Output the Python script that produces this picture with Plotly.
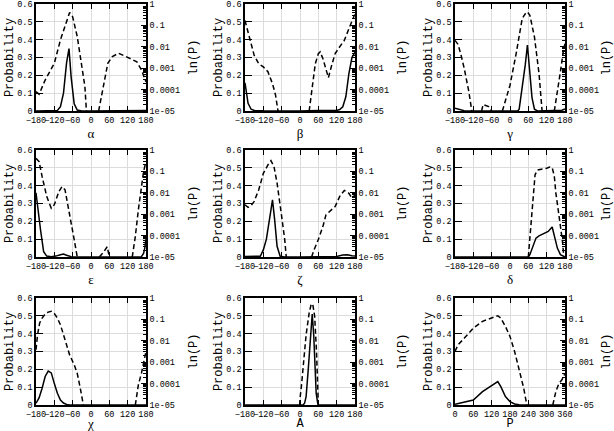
import plotly.graph_objects as go

# ---- data (x in degrees) ----
# solid: probability (left axis), dashed: P on log axis (right axis)
alpha_xs = [-180, -120, -110, -100, -90, -80, -72, -65, -55, -45, -30, 0, 30, 60, 90, 120, 150, 180]
alpha_ps = [0, 0, 0.003, 0.024, 0.1, 0.27, 0.35, 0.19, 0.04, 0.005, 0, 0, 0, 0.003, 0.004, 0.003, 0.003, 0.003]
alpha_xd = [-180, -170, -150, -120, -100, -80, -70, -60, -45, -30, -20, -15, None,
            25, 40, 55, 70, 90, 120, 150, 165, 180]
alpha_pd = [8e-5, 6e-5, 2.8e-4, 1.7e-3, 2.1e-2, 0.18, 0.4, 0.25, 0.03, 1.2e-3, 1.4e-4, 1e-5, None,
            1e-5, 1.4e-4, 1.7e-3, 3.5e-3, 5e-3, 3.2e-3, 2e-3, 8.3e-4, 2.3e-4]

beta_xs = [-180, -175, -170, -160, -150, -120, -60, 0, 60, 100, 120, 130, 140, 150, 160, 170, 180]
beta_ps = [0.158, 0.1, 0.043, 0.01, 0.003, 0.001, 0, 0, 0.003, 0.002, 0.003, 0.008, 0.024, 0.08, 0.21, 0.30, 0.33]
beta_xd = [-180, -165, -150, -135, -120, -105, -90, -80, -72, None,
           30, 40, 50, 60, 66, 75, 85, 93, 105, 115, 130, 145, 160, 170, 180]
beta_pd = [0.17, 0.028, 4e-3, 1.6e-3, 1.15e-3, 6.8e-4, 1.9e-4, 5.5e-5, 1e-5, None,
           1e-5, 1.35e-4, 1.6e-3, 4.8e-3, 5.8e-3, 2.8e-3, 8e-4, 3.6e-4, 1.6e-3, 4.8e-3, 0.01, 0.02, 0.07, 0.17, 0.35]

gamma_xs = [-180, -170, -160, -150, -120, 0, 25, 30, 40, 50, 57, 65, 72, 80, 90, 170, 180]
gamma_ps = [0.015, 0.012, 0.005, 0.002, 0, 0, 0, 0.01, 0.13, 0.26, 0.37, 0.2, 0.075, 0.01, 0, 0.004, 0.012]
gamma_xd = [-180, -170, -160, -150, -135, -125, None, -93, -88, -70, -60, None,
            -25, -10, 0, 20, 40, 50, 57, 65, 80, 95, 105, None, 145, 155, 165, 175, 180]
gamma_pd = [0.02, 0.013, 4e-3, 1e-3, 8.5e-5, 1e-5, None, 1e-5, 2e-5, 1.6e-5, 1e-5, None,
            1e-5, 5e-5, 1.6e-4, 4.7e-3, 0.21, 0.35, 0.43, 0.3, 0.029, 5.6e-4, 1e-5, None,
            1e-5, 6.6e-5, 6.8e-4, 7e-3, 0.014]

eps_xs = [-180, -175, -165, -155, -145, -130, -115, -100, -90, -80, -65, -50, 0, 150, 165, 172, 176, 180]
eps_ps = [0.36, 0.28, 0.15, 0.03, 0.005, 0.002, 0.005, 0.013, 0.017, 0.01, 0.002, 0, 0, 0, 0.002, 0.02, 0.05, 0.1]
eps_xd = [-180, -170, -160, -145, -130, -120, -105, -95, -85, -70, -55, -45, None,
          27, 40, 53, 60, None, 135, 145, 155, 165, 172, 180]
eps_pd = [0.41, 0.29, 0.058, 6.8e-3, 1.9e-3, 2.8e-3, 0.0115, 0.0195, 0.0138, 1.1e-3, 6.5e-5, 1e-5, None,
          1e-5, 1.6e-5, 3e-5, 1e-5, None, 1e-5, 9e-5, 1.6e-3, 0.0195, 0.098, 0.29]

zeta_xs = [-180, -150, -130, -120, -110, -100, -93, -90, -83, -75, -65, -50, 0, 100, 120, 140, 155, 170, 180]
zeta_ps = [0.003, 0.002, 0.004, 0.04, 0.1, 0.21, 0.30, 0.32, 0.21, 0.06, 0.004, 0, 0, 0.002, 0.003, 0.011, 0.013, 0.007, 0.005]
zeta_xd = [-180, -170, -160, -150, -135, -120, -105, -95, -85, -75, -60, -50, -45, None,
           38, 45, 60, 75, 85, 100, 115, 130, 145, 160, 170, 180]
zeta_pd = [2.75e-3, 2.1e-3, 2.5e-3, 4e-3, 0.0138, 0.081, 0.2, 0.32, 0.166, 0.028, 7.9e-4, 6.5e-5, 1e-5, None,
           1e-5, 2e-5, 6.5e-5, 2.7e-4, 9.3e-4, 1.5e-3, 2.3e-3, 6.8e-3, 0.0129, 9.5e-3, 5.6e-3, 7.9e-3]

delta_xs = [-180, 60, 65, 75, 85, 95, 110, 125, 138, 145, 155, 165, 175, 180]
delta_ps = [0, 0, 0.013, 0.06, 0.106, 0.119, 0.13, 0.143, 0.168, 0.115, 0.05, 0.013, 0.002, 0]
delta_xd = [60, 68, 75, 82, 90, 105, 120, 130, 138, 145, 150, 158, 165, 172, 176]
delta_pd = [1e-5, 2.7e-4, 9.5e-3, 0.07, 0.117, 0.126, 0.14, 0.16, 0.15, 0.06, 0.01, 1.5e-3, 3e-4, 5e-5, 1e-5]

chi_xs = [-180, -170, -160, -150, -140, -130, -120, -110, -100, -90, -80, -70, 180]
chi_ps = [0.01, 0.04, 0.094, 0.16, 0.19, 0.18, 0.12, 0.066, 0.028, 0.011, 0.003, 0, 0]
chi_xd = [-180, -175, -168, -160, -150, -140, -130, -120, -110, -100, -85, -70, -55, -45, -35, -25, None,
          145, 155, 165, 175, 180]
chi_pd = [3.8e-3, 0.019, 0.068, 0.115, 0.178, 0.22, 0.24, 0.186, 0.115, 0.056, 0.0112, 2.2e-3, 7.6e-4, 3e-4, 6e-5, 1e-5, None,
          1e-5, 8.7e-5, 3e-4, 1.9e-3, 3.2e-3]

a_xs = [-180, 10, 15, 20, 27, 35, 40, 45, 50, 53, 58, 60, 180]
a_ps = [0, 0, 0.01, 0.047, 0.2, 0.41, 0.51, 0.39, 0.2, 0.065, 0.01, 0, 0]
a_xd = [-1, 0, 5, 10, 20, 30, 37, 42, 48, 54, 58, 60]
a_pd = [1e-5, 2e-5, 8.7e-5, 5.2e-4, 0.019, 0.2, 0.54, 0.49, 0.138, 3.2e-3, 8.7e-5, 1e-5]

p_xs = [0, 30, 60, 90, 120, 140, 150, 165, 180, 195, 210, 240, 360]
p_ps = [0.004, 0.015, 0.028, 0.075, 0.107, 0.131, 0.103, 0.047, 0.019, 0.006, 0.001, 0, 0]
p_xd = [0, 10, 30, 60, 90, 120, 140, 150, 165, 180, 195, 210, 225, 235, None, 320, 330, 340, 350, 360]
p_pd = [3.2e-3, 6.5e-3, 0.013, 0.039, 0.081, 0.115, 0.148, 0.115, 0.047, 0.016, 3.2e-3, 4.4e-4, 6e-5, 1e-5, None,
        1e-5, 4.2e-5, 1e-4, 1.5e-4, 3e-4]

panels = [
    ("α", alpha_xs, alpha_ps, alpha_xd, alpha_pd),
    ("β", beta_xs, beta_ps, beta_xd, beta_pd),
    ("γ", gamma_xs, gamma_ps, gamma_xd, gamma_pd),
    ("ε", eps_xs, eps_ps, eps_xd, eps_pd),
    ("ζ", zeta_xs, zeta_ps, zeta_xd, zeta_pd),
    ("δ", delta_xs, delta_ps, delta_xd, delta_pd),
    ("χ", chi_xs, chi_ps, chi_xd, chi_pd),
    ("A", a_xs, a_ps, a_xd, a_pd),
    ("P", p_xs, p_ps, p_xd, p_pd),
]

angle_ticks = [-180, -120, -60, 0, 60, 120, 180]
pseudo_ticks = [0, 60, 120, 180, 240, 300, 360]
prob_ticks = [0, 0.1, 0.2, 0.3, 0.4, 0.5, 0.6]
log_ticks = [1e-5, 1e-4, 1e-3, 1e-2, 1e-1, 1]
log_text = ["1e-05", "0.0001", "0.001", "0.01", "0.1", "1"]

W, H = 614, 431
col_px = [(36, 146), (245, 355), (455, 565)]
row_px = [(4, 111), (150, 257), (298, 405)]

mono = "Liberation Mono, Courier New, monospace"
tick_font = dict(family=mono, size=8.5, color="black")
title_font = dict(family=mono, size=12, color="black")
grid = "#dcdcdc"

fig = go.Figure()
layout = dict(width=W, height=H, margin=dict(l=0, r=0, t=0, b=0),
              paper_bgcolor="white", plot_bgcolor="white", showlegend=False)

minor_vals = [m * 10 ** e for e in range(-5, 0) for m in range(2, 10)]

for k, (name, xs, ps, xd, pd_) in enumerate(panels):
    r, c = divmod(k, 3)
    xk = "" if k == 0 else str(k + 1)
    y1 = "" if k == 0 else str(2 * k + 1)
    y2 = str(2 * k + 2)

    fig.add_trace(go.Scatter(x=xs, y=ps, mode="lines", xaxis="x" + xk, yaxis="y" + y1,
                             line=dict(color="black", width=1.5)))
    fig.add_trace(go.Scatter(x=xd, y=pd_, mode="lines", xaxis="x" + xk, yaxis="y" + y2,
                             connectgaps=False,
                             line=dict(color="black", width=1.5, dash="5px,3px")))

    x0, x1 = col_px[c]
    top, bot = row_px[r]
    xdom = [x0 / W, x1 / W]
    ydom = [1 - bot / H, 1 - top / H]

    ticks = pseudo_ticks if name == "P" else angle_ticks
    font_x = title_font if name in ("A", "P") else dict(family="Liberation Serif", size=13, color="black")
    layout["xaxis" + xk] = dict(
        domain=xdom, anchor="y" + y1, range=[ticks[0], ticks[-1]], automargin=False,
        tickvals=ticks, tickangle=0, ticks="inside", ticklen=5, tickwidth=1.2,
        tickcolor="black", showline=True, linecolor="black", linewidth=1.5, mirror="ticks",
        showgrid=True, gridcolor=grid, gridwidth=1, zeroline=False, ticklabeloverflow="allow",
        tickfont=tick_font, title=dict(text=name, font=font_x, standoff=0),
    )
    layout["yaxis" + y1] = dict(
        domain=ydom, anchor="x" + xk, range=[0, 0.6], tickvals=prob_ticks, automargin=False,
        ticks="inside", ticklen=7, tickwidth=1.2, tickcolor="black",
        showline=True, linecolor="black", linewidth=1.5, ticklabeloverflow="allow",
        showgrid=True, gridcolor=grid, gridwidth=1, zeroline=False,
        tickfont=tick_font, title=dict(text="Probability", font=title_font, standoff=0),
    )
    layout["yaxis" + y2] = dict(
        domain=ydom, anchor="x" + xk, overlaying="y" + y1, side="right", automargin=False,
        type="log", range=[-5, 0], tickvals=log_ticks, ticktext=log_text,
        ticks="inside", ticklen=5, tickwidth=1.2, tickcolor="black", ticklabeloverflow="allow",
        minor=dict(tickvals=minor_vals, ticks="inside", ticklen=3, tickcolor="black", showgrid=False),
        showline=True, linecolor="black", linewidth=1.5,
        showgrid=False, zeroline=False,
        tickfont=tick_font, title=dict(text="ln(P)", font=title_font, standoff=10),
    )

fig.update_layout(**layout)
# the page body has a default 8px margin; drop it so the figure sits at the window corner
fig.write_html("out.html", config={"displayModeBar": False},
               post_script="document.body.style.margin='0';")
